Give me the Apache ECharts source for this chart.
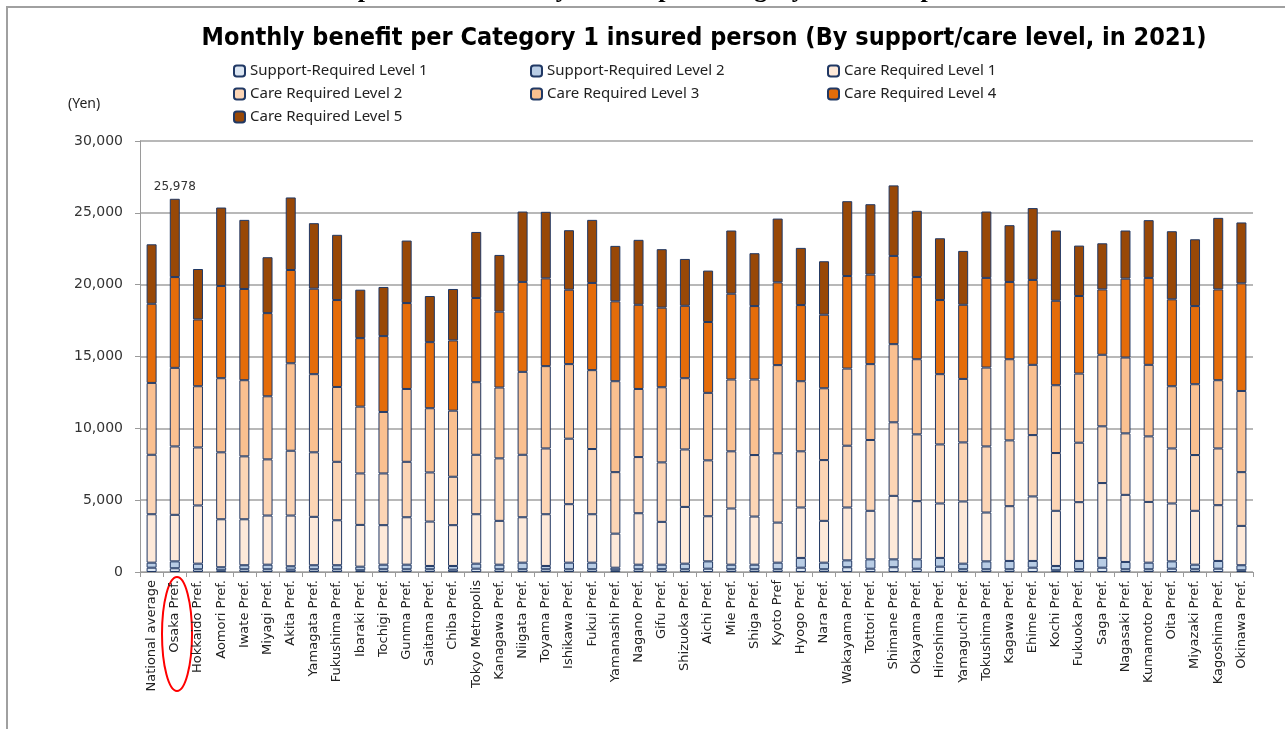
<!DOCTYPE html>
<html>
<head>
<meta charset="utf-8">
<script src="https://cdn.jsdelivr.net/npm/echarts@6/dist/echarts.min.js"></script>
<style>
  html, body { margin: 0; padding: 0; background: #fff; }
  #main { width: 1285px; height: 729px; }
</style>
</head>
<body>
<div id="main"></div>
<script>
const categories = [
  "National average", "Osaka Pref.", "Hokkaido Pref.", "Aomori Pref.", "Iwate Pref.", "Miyagi Pref.",
  "Akita Pref.", "Yamagata Pref.", "Fukushima Pref.", "Ibaraki Pref.", "Tochigi Pref.", "Gunma Pref.",
  "Saitama Pref.", "Chiba Pref.", "Tokyo Metropolis", "Kanagawa Pref.", "Niigata Pref.", "Toyama Pref.",
  "Ishikawa Pref.", "Fukui Pref.", "Yamanashi Pref.", "Nagano Pref.", "Gifu Pref.", "Shizuoka Pref.",
  "Aichi Pref.", "Mie Pref.", "Shiga Pref.", "Kyoto Pref", "Hyogo Pref.", "Nara Pref.",
  "Wakayama Pref.", "Tottori Pref.", "Shimane Pref.", "Okayama Pref.", "Hiroshima Pref.", "Yamaguchi Pref.",
  "Tokushima Pref.", "Kagawa Pref.", "Ehime Pref.", "Kochi Pref.", "Fukuoka Pref.", "Saga Pref.",
  "Nagasaki Pref.", "Kumamoto Pref.", "Oita Pref.", "Miyazaki Pref.", "Kagoshima Pref.", "Okinawa Pref."
];

// yen per person per month, by level
const support1 = [300,260,190,120,190,190,160,190,190,120,190,190,190,160,230,190,190,190,190,190,120,190,190,190,230,190,190,190,300,190,330,230,330,230,370,190,190,190,300,120,190,300,190,190,230,190,230,120];
const support2 = [350,480,390,210,280,320,240,280,280,250,320,320,230,260,350,320,460,230,460,460,180,320,320,390,510,320,320,460,680,460,480,650,550,650,610,390,550,580,470,300,580,680,510,460,510,320,540,350];
const care1 = [3370,3240,4050,3340,3200,3420,3530,3370,3130,2910,2750,3300,3090,2840,3440,3050,3160,3600,4070,3370,2370,3580,2980,3950,3140,3910,3350,2790,3510,2910,3680,3380,4420,4050,3790,4330,3400,3810,4490,3840,4090,5210,4670,4230,4030,3750,3880,2740];
const care2 = [4140,4760,4040,4660,4380,3910,4510,4490,4070,3580,3600,3860,3420,3370,4140,4350,4350,4580,4560,4540,4280,3910,4140,4000,3890,3980,4280,4820,3910,4230,4300,4930,5120,4650,4110,4110,4600,4580,4270,4020,4140,3950,4280,4560,3830,3880,3950,3740];
const care3 = [5000,5470,4260,5160,5300,4390,6090,5440,5210,4650,4280,5070,4470,4600,5050,4930,5770,5730,5190,5490,6330,4740,5230,4960,4700,5000,5260,6140,4880,5000,5370,5280,5440,5230,4890,4420,5490,5650,4890,4720,4810,4980,5280,4980,4330,4930,4750,5650];
const care4 = [5510,6320,4650,6420,6350,5790,6490,5950,6050,4770,5280,5980,4600,4890,5860,5280,6260,6110,5180,6070,5560,5860,5540,5040,4930,5970,5110,5760,5300,5120,6440,6230,6140,5720,5160,5160,6240,5380,5910,5880,5400,4550,5490,6050,6050,5440,6320,7490];
const care5 = [4140,5448,3510,5460,4810,3890,5050,4560,4540,3370,3420,4350,3210,3580,4600,3950,4900,4630,4140,4390,3860,4520,4070,3260,3580,4400,3680,4440,3980,3720,5210,4900,4910,4610,4300,3750,4620,3950,5000,4890,3510,3210,3350,4020,4740,4650,4980,4240];

const yTicks = [0, 5000, 10000, 15000, 20000, 25000, 30000];
const labelledIndex = 1; // Osaka

const levels = [
  { name: "Support-Required Level 1", data: support1, color: "#dce6f2" },
  { name: "Support-Required Level 2", data: support2, color: "#b9cde5" },
  { name: "Care Required Level 1", data: care1, color: "#fde9d9" },
  { name: "Care Required Level 2", data: care2, color: "#fcd5b5" },
  { name: "Care Required Level 3", data: care3, color: "#fac090" },
  { name: "Care Required Level 4", data: care4, color: "#e46c0a" },
  { name: "Care Required Level 5", data: care5, color: "#984807" }
];

const totals = categories.map((c, i) => levels.reduce((s, l) => s + l.data[i], 0));

const FONT = "DejaVu Sans, Verdana, sans-serif";

const series = levels.map((l, k) => ({
  name: l.name,
  type: "bar",
  stack: "total",
  barWidth: 10,
  itemStyle: { color: l.color, borderColor: "#203864", borderWidth: 1 },
  data: l.data.map((v, i) => {
    if (k === levels.length - 1 && i === labelledIndex) {
      return {
        value: v,
        label: {
          show: true,
          position: "top",
          distance: 6,
          formatter: () => totals[i].toLocaleString("en-US"),
          fontFamily: FONT,
          fontSize: 12,
          color: "#333"
        }
      };
    }
    return v;
  })
}));

function legendCol(names, left) {
  return {
    orient: "vertical",
    left: left,
    top: 62,
    padding: 0,
    itemGap: 5,
    itemWidth: 11,
    itemHeight: 11,
    data: names,
    textStyle: { fontFamily: "Noto Sans, sans-serif", fontSize: 15, color: "#222", lineHeight: 18 }
  };
}

const chart = echarts.init(document.getElementById("main"));
const option = {
  animation: false,
  backgroundColor: "#fff",
  title: {
    text: "Monthly benefit per Category 1 insured person (By support/care level, in 2021)",
    left: 699,
    top: 21,
    textAlign: "center",
    textStyle: {
      fontFamily: "Liberation Sans Narrow, DejaVu Sans Condensed, sans-serif",
      fontWeight: "bold",
      fontSize: 25,
      color: "#000"
    }
  },
  legend: [
    legendCol([levels[0].name, levels[3].name, levels[6].name], 233),
    legendCol([levels[1].name, levels[4].name], 530),
    legendCol([levels[2].name, levels[5].name], 827)
  ],
  grid: { left: 140, right: 32, top: 141, bottom: 157 },
  xAxis: {
    type: "category",
    data: categories,
    axisLine: { lineStyle: { color: "#9a9a9a", width: 1 } },
    axisTick: { show: true, length: 5, lineStyle: { color: "#9a9a9a" } },
    axisLabel: {
      rotate: 90,
      interval: 0,
      margin: 8,
      fontFamily: FONT,
      fontSize: 13,
      color: "#222"
    }
  },
  yAxis: {
    type: "value",
    min: yTicks[0],
    max: yTicks[yTicks.length - 1],
    interval: yTicks[1] - yTicks[0],
    axisLine: { show: true, lineStyle: { color: "#9a9a9a" } },
    axisTick: { show: true, length: 5, lineStyle: { color: "#9a9a9a" } },
    splitLine: { lineStyle: { color: "#a0a0a0", width: 1.5 } },
    axisLabel: {
      margin: 17,
      fontFamily: FONT,
      fontSize: 14,
      color: "#333",
      formatter: (v) => v.toLocaleString("en-US")
    }
  },
  graphic: [
    {
      type: "rect",
      shape: { x: 7, y: 7, width: 1400, height: 900 },
      style: { fill: "none", stroke: "#a0a0a0", lineWidth: 2 },
      silent: true
    },
    {
      type: "text",
      x: 650,
      y: -10,
      style: {
        text: "[Comparison of monthly benefit per Category 1 insured person]",
        font: "bold 26px 'Liberation Serif', 'Times New Roman', serif",
        fill: "#000",
        textAlign: "center",
        textVerticalAlign: "middle"
      }
    },
    {
      type: "text",
      x: 68,
      y: 104,
      style: {
        text: "(Yen)",
        font: "14px 'Noto Sans', sans-serif",
        fill: "#222",
        textVerticalAlign: "middle"
      }
    },
    {
      type: "ellipse",
      shape: { cx: 177, cy: 634, rx: 15, ry: 57 },
      style: { fill: "none", stroke: "#ff0000", lineWidth: 2 },
      silent: true
    }
  ],
  series: series
};
option && chart.setOption(option);
</script>
</body>
</html>
